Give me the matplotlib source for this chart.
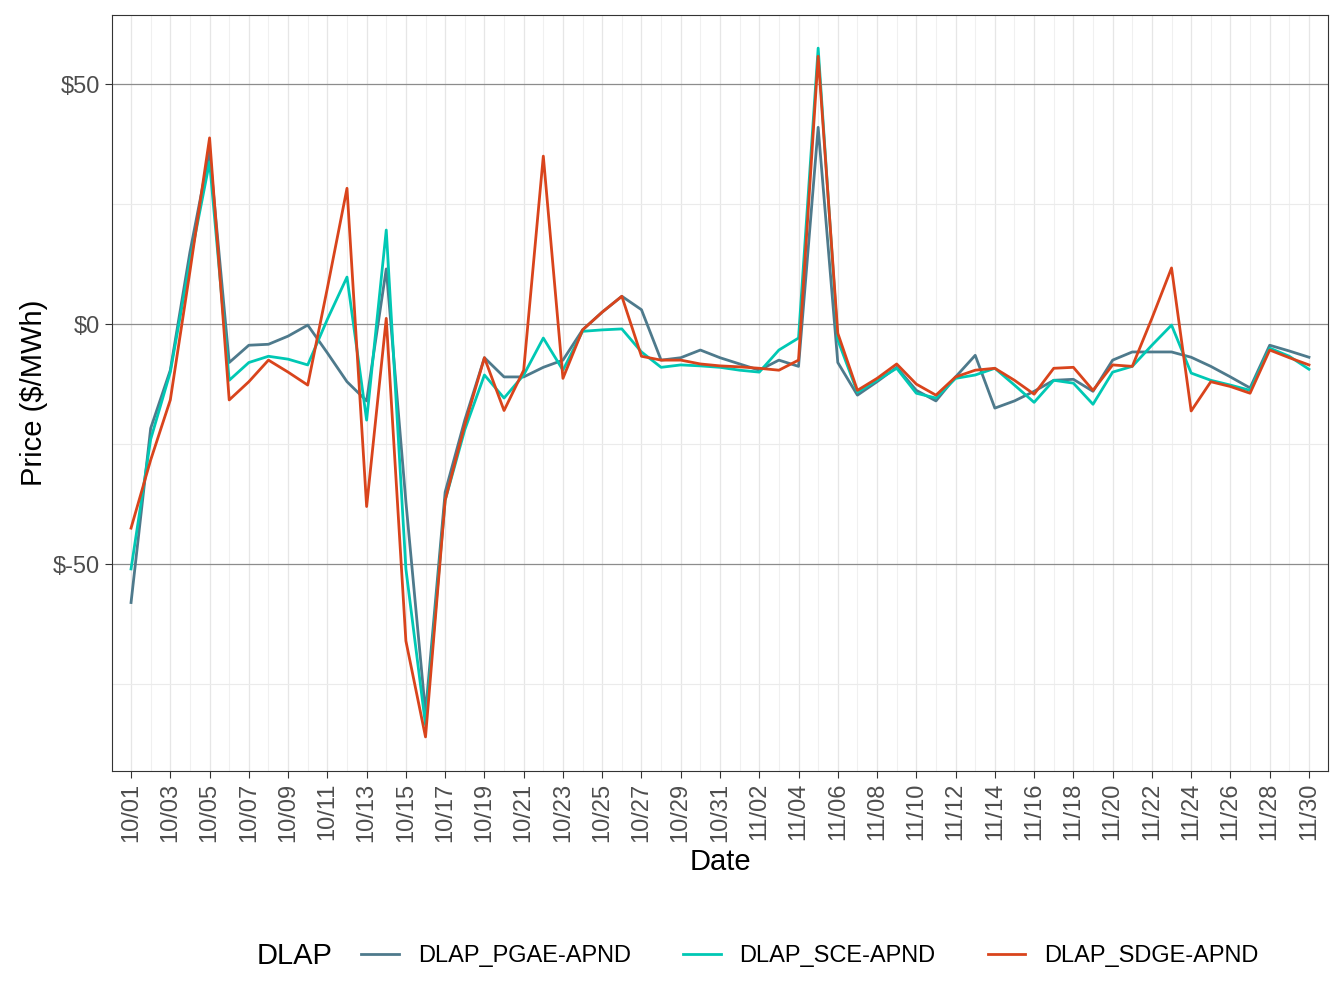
import matplotlib
matplotlib.use("Agg")
import matplotlib.pyplot as plt
import numpy as np
import pandas as pd

plt.rcParams["font.family"] = "Liberation Sans"

dates = pd.date_range("2023-10-01", "2023-11-30", freq="D")
pgae = [-58,-21.7,-9.6,15,36,-8,-4.4,-4.2,-2.5,-0.2,-6,-12,-16,11.5,-37,-81,-35,-20,-7,-11,-11,-9,-7.5,-1.2,2.5,5.8,3,-7.5,-7,-5.4,-7,-8.3,-9.6,-7.5,-8.8,41,-8,-14.8,-12,-9,-13.8,-16,-11,-6.5,-17.5,-16,-14,-11.7,-11.5,-14,-7.5,-5.8,-5.8,-5.8,-6.9,-8.8,-11,-13.3,-4.4,-5.6,-6.9]
sce = [-51,-24,-10,13,33.8,-11.7,-8,-6.7,-7.3,-8.5,1,9.8,-20,19.6,-51,-83.5,-36.7,-22,-10.6,-15.4,-10.6,-2.9,-9.6,-1.5,-1.2,-1,-5.8,-9,-8.5,-8.7,-9,-9.6,-10,-5.4,-2.9,57.5,-3.3,-14.2,-11.7,-9.2,-14.4,-15.4,-11.3,-10.6,-9.2,-12.7,-16.3,-11.7,-12.3,-16.7,-10,-8.8,-4.4,-0.2,-10.2,-11.7,-12.7,-13.8,-5,-6.7,-9.4]
sdge = [-42.5,-28.3,-15.8,11,38.8,-15.8,-12,-7.5,-10,-12.7,7.5,28.3,-38,1.2,-66,-86,-36.7,-21,-7,-18,-9.6,35,-11.3,-1.2,2.5,5.8,-6.7,-7.5,-7.5,-8.3,-8.7,-8.9,-9.2,-9.6,-7.5,55.8,-1.9,-13.8,-11.3,-8.3,-12.5,-14.8,-11,-9.6,-9.2,-11.7,-14.6,-9.2,-9,-13.8,-8.5,-8.8,1.2,11.7,-18.1,-12,-13,-14.4,-5.4,-7,-8.5]
series = [("DLAP_PGAE-APND", pgae, "#4E7A8C"), ("DLAP_SCE-APND", sce, "#00C8B4"), ("DLAP_SDGE-APND", sdge, "#D9441C")]

fig = plt.figure(figsize=(13.44, 10.08), dpi=100)
ax = fig.add_axes([112/1344, 1-771/1008, (1328-112)/1344, (771-15)/1008])
x = np.arange(len(dates))
for name, v, c in series:
    ax.plot(x, v, color=c, lw=2, label=name)
ax.set_xlim(-0.97, 60.97)
ax.set_ylim(-93.1, 64.4)
ax.set_xticks(x[::2])
ax.set_xticklabels([d.strftime("%m/%d") for d in dates[::2]], rotation=90, fontsize=17, color="#4d4d4d")
ax.set_xticks(x[1::2], minor=True)
ax.set_yticks([-50, 0, 50])
ax.set_yticklabels(["$-50", "$0", "$50"], fontsize=17, color="#4d4d4d")
ax.set_yticks([-75, -25, 25], minor=True)
ax.yaxis.grid(which="major", color="#8c8c8c", lw=0.9)
ax.yaxis.grid(which="minor", color="#ebebeb", lw=0.8)
ax.xaxis.grid(which="major", color="#e6e6e6", lw=0.9)
ax.xaxis.grid(which="minor", color="#f0f0f0", lw=0.8)
ax.tick_params(which="minor", length=0)
ax.tick_params(which="major", length=5, color="#333333")
ax.set_axisbelow(True)
for s in ax.spines.values():
    s.set_color("#333333")
ax.set_xlabel("Date", fontsize=21)
ax.set_ylabel("Price ($/MWh)", fontsize=21)
fig.text(257/1344, 1-956/1008, "DLAP", fontsize=21, va="center", ha="left")
fig.legend(loc="center left", bbox_to_anchor=(340/1344, 1-956/1008), ncol=3, frameon=False,
           fontsize=17, handlelength=1.6, columnspacing=2.2, handletextpad=0.8)
fig.savefig("out.png", dpi=100)
